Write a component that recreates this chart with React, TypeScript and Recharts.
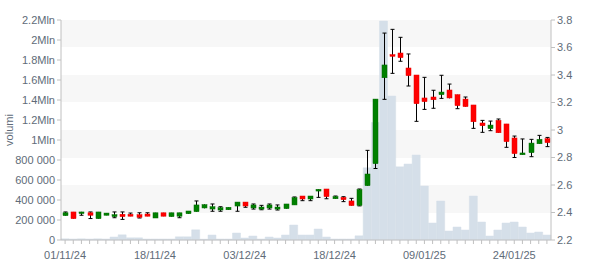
import { ComposedChart, Bar, XAxis, YAxis, CartesianGrid } from 'recharts';

// trading days shown on the chart
const dates = [
  '01/11/24', '04/11/24', '05/11/24', '06/11/24', '07/11/24', '08/11/24', '11/11/24', '12/11/24', '13/11/24', '14/11/24',
  '15/11/24', '18/11/24', '19/11/24', '20/11/24', '21/11/24', '22/11/24', '25/11/24', '26/11/24', '27/11/24', '28/11/24',
  '29/11/24', '02/12/24', '03/12/24', '04/12/24', '05/12/24', '06/12/24', '09/12/24', '10/12/24', '11/12/24', '12/12/24',
  '13/12/24', '16/12/24', '17/12/24', '18/12/24', '19/12/24', '20/12/24', '23/12/24', '27/12/24', '30/12/24', '02/01/25',
  '03/01/25', '06/01/25', '07/01/25', '08/01/25', '09/01/25', '10/01/25', '13/01/25', '14/01/25', '15/01/25', '16/01/25',
  '17/01/25', '20/01/25', '21/01/25', '22/01/25', '23/01/25', '24/01/25', '27/01/25', '28/01/25', '29/01/25', '30/01/25',
];

const openPrices = [
  2.377, 2.404, 2.392, 2.398, 2.355, 2.38, 2.37, 2.387, 2.387, 2.384,
  2.389, 2.36, 2.398, 2.37, 2.373, 2.391, 2.406, 2.433, 2.425, 2.418,
  2.42, 2.447, 2.476, 2.433, 2.425, 2.433, 2.425, 2.428, 2.455, 2.52,
  2.498, 2.556, 2.571, 2.5, 2.51, 2.484, 2.452, 2.595, 2.755, 3.38,
  3.548, 3.56, 3.451, 3.4, 3.233, 3.24, 3.257, 3.291, 3.257, 3.225,
  3.182, 3.051, 3.01, 3.07, 3.044, 2.942, 2.82, 2.835, 2.9, 2.937,
];
const highPrices = [
  2.404, 2.404, 2.405, 2.404, 2.404, 2.396, 2.404, 2.404, 2.396, 2.398,
  2.398, 2.398, 2.398, 2.398, 2.398, 2.411, 2.484, 2.46, 2.462, 2.442,
  2.438, 2.476, 2.476, 2.462, 2.452, 2.462, 2.455, 2.462, 2.513, 2.52,
  2.52, 2.569, 2.571, 2.52, 2.515, 2.503, 2.571, 2.852, 3.225, 3.705,
  3.732, 3.674, 3.553, 3.4, 3.383, 3.289, 3.398, 3.334, 3.257, 3.24,
  3.182, 3.07, 3.065, 3.08, 3.044, 2.956, 2.935, 2.932, 2.961, 2.946,
];
const lowPrices = [
  2.377, 2.355, 2.38, 2.356, 2.355, 2.38, 2.362, 2.35, 2.373, 2.36,
  2.373, 2.36, 2.373, 2.37, 2.362, 2.391, 2.406, 2.43, 2.409, 2.409,
  2.42, 2.409, 2.438, 2.425, 2.42, 2.425, 2.418, 2.428, 2.455, 2.486,
  2.486, 2.51, 2.5, 2.5, 2.479, 2.45, 2.448, 2.595, 2.72, 3.223,
  3.412, 3.5, 3.32, 3.063, 3.15, 3.158, 3.23, 3.23, 3.155, 3.17,
  3.012, 2.983, 2.995, 2.98, 2.874, 2.8, 2.82, 2.806, 2.9, 2.879,
];
const closePrices = [
  2.398, 2.355, 2.404, 2.38, 2.404, 2.396, 2.384, 2.37, 2.373, 2.365,
  2.373, 2.398, 2.373, 2.398, 2.398, 2.411, 2.455, 2.457, 2.442, 2.435,
  2.438, 2.476, 2.447, 2.455, 2.44, 2.455, 2.44, 2.462, 2.508, 2.498,
  2.52, 2.569, 2.515, 2.515, 2.493, 2.45, 2.566, 2.68, 3.225, 3.473,
  3.536, 3.526, 3.395, 3.191, 3.206, 3.22, 3.276, 3.233, 3.177, 3.17,
  3.06, 3.031, 3.036, 2.98, 2.915, 2.828, 2.833, 2.905, 2.932, 2.908,
];
const volumes = [
  12000, 10000, 12000, 10000, 12000, 10000, 30000, 52000, 22000, 22000,
  10000, 10000, 10000, 10000, 32000, 32000, 102000, 8000, 50000, 10000,
  10000, 70000, 20000, 40000, 10000, 30000, 20000, 50000, 150000, 50000,
  50000, 110000, 30000, 10000, 10000, 10000, 42000, 722000, 1175000, 2190000,
  1440000, 732000, 760000, 850000, 540000, 170000, 390000, 90000, 130000, 100000,
  440000, 180000, 40000, 100000, 170000, 180000, 130000, 70000, 80000, 50000,
];

const priceTicks = [2.2, 2.4, 2.6, 2.8, 3, 3.2, 3.4, 3.6, 3.8];
const volumeTicks = [0, 200000, 400000, 600000, 800000, 1000000, 1200000, 1400000, 1600000, 1800000, 2000000, 2200000];
const dateLabels = ['01/11/24', '18/11/24', '03/12/24', '18/12/24', '09/01/25', '24/01/25'];

const data = dates.map((date, i) => ({
  date,
  open: openPrices[i],
  high: highPrices[i],
  low: lowPrices[i],
  close: closePrices[i],
  range: [lowPrices[i], highPrices[i]],
  volume: volumes[i],
}));

const textColor = '#606b78';
const axisColor = '#c0c0c0';

const fmtVolume = (v: number) => {
  if (v === 0) return '0';
  if (v >= 1000000) return `${+(v / 1000000).toFixed(1)}Mln`;
  return `${v / 1000} 000`;
};

const DateTick = (props: any) => {
  const { x, y, payload } = props;
  if (!dateLabels.includes(payload.value)) return null;
  return (
    <text x={x} y={y} dy="0.71em" textAnchor="middle" fill={textColor} fontSize={11}>
      {payload.value}
    </text>
  );
};

const VolumeLabel = (props: any) => {
  const { viewBox } = props;
  const lx = viewBox.x + 13;
  const ly = viewBox.y + viewBox.height / 2;
  return (
    <text x={lx} y={ly} transform={`rotate(-90, ${lx}, ${ly})`} textAnchor="middle" fill={textColor} fontSize={11}>
      volumi
    </text>
  );
};

const Candle = (props: any) => {
  const { x, y, width, height, payload } = props;
  const { open, close, high, low } = payload;
  const k = height / (high - low);
  const yOf = (v: number) => y + (high - v) * k;
  const cx = Math.round(x + width / 2) + 0.5;
  const up = close >= open;
  const top = yOf(Math.max(open, close));
  let bottom = yOf(Math.min(open, close));
  if (bottom - top < 1.5) bottom = top + 1.5;
  const yHigh = yOf(high);
  const yLow = yOf(low);
  return (
    <g>
      <line x1={cx} x2={cx} y1={yHigh} y2={yLow} stroke="#000" strokeWidth={1} />
      {top - yHigh > 0.5 && <line x1={cx - 2} x2={cx + 2} y1={yHigh} y2={yHigh} stroke="#000" strokeWidth={1} />}
      {yLow - bottom > 0.5 && <line x1={cx - 2} x2={cx + 2} y1={yLow} y2={yLow} stroke="#000" strokeWidth={1} />}
      <rect
        x={cx - 2.5}
        y={top}
        width={5}
        height={bottom - top}
        fill={up ? '#008000' : '#ff0000'}
        stroke={up ? '#006a00' : '#e60000'}
        strokeWidth={0.5}
      />
    </g>
  );
};

export default function App() {
  return (
    <div style={{ position: 'absolute', left: 0, top: 0, background: '#fff' }}>
      <ComposedChart
        width={600}
        height={270}
        data={data}
        margin={{ top: 20, right: 0, bottom: 0, left: 0 }}
        barCategoryGap={0}
        style={{ fontFamily: 'Arial, "Liberation Sans", sans-serif' }}
      >
        <CartesianGrid
          xAxisId="main"
          yAxisId="price"
          vertical={false}
          stroke="none"
          horizontalFill={['#f7f7f7', '#ffffff']}
        />
        <XAxis
          xAxisId="main"
          dataKey="date"
          interval={0}
          height={30}
          tick={<DateTick />}
          tickSize={4}
          tickMargin={7}
          axisLine={{ stroke: axisColor }}
          tickLine={{ stroke: axisColor }}
        />
        <XAxis xAxisId="vol" dataKey="date" hide />
        <YAxis
          yAxisId="vol"
          orientation="left"
          width={61}
          domain={[0, 2200000]}
          ticks={volumeTicks}
          tickFormatter={fmtVolume}
          tick={{ fill: textColor, fontSize: 11 }}
          tickSize={4}
          tickMargin={2}
          axisLine={{ stroke: axisColor }}
          tickLine={{ stroke: axisColor }}
          label={<VolumeLabel />}
        />
        <YAxis
          yAxisId="price"
          orientation="right"
          width={49}
          domain={[2.2, 3.8]}
          ticks={priceTicks}
          tick={{ fill: textColor, fontSize: 11 }}
          tickSize={4}
          tickMargin={2}
          axisLine={{ stroke: axisColor }}
          tickLine={{ stroke: axisColor }}
        />
        <Bar
          xAxisId="vol"
          yAxisId="vol"
          dataKey="volume"
          fill="#d5dfe9"
          stroke="#d5dfe9"
          strokeWidth={0.5}
          isAnimationActive={false}
        />
        <Bar
          xAxisId="main"
          yAxisId="price"
          dataKey="range"
          shape={<Candle />}
          isAnimationActive={false}
        />
      </ComposedChart>
    </div>
  );
}
